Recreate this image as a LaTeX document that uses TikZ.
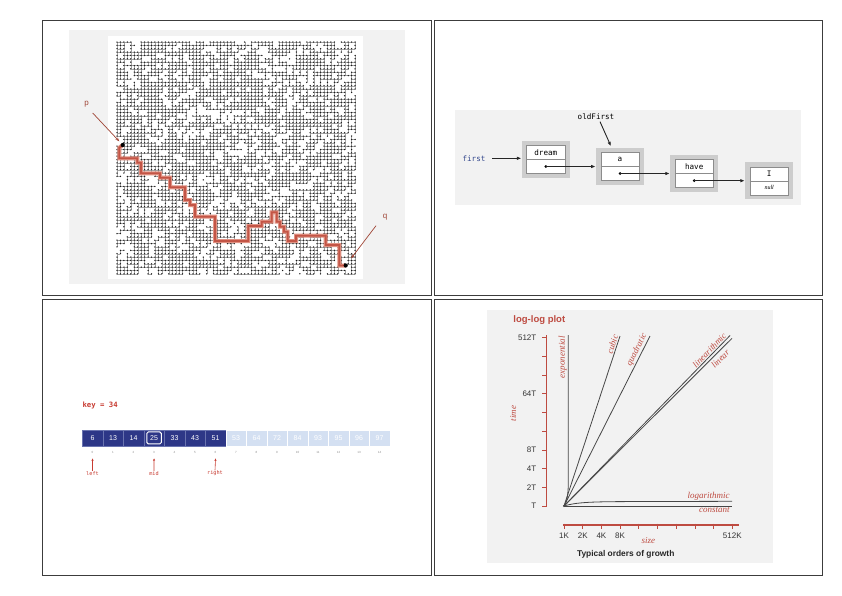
\documentclass[tikz,border=0pt]{standalone}
\usepackage{fontspec}
\setmainfont{Liberation Sans}
\newfontfamily\monof{DejaVu Sans Mono}
\newfontfamily\serf{Liberation Serif}
\usetikzlibrary{arrows.meta,calc}
\definecolor{framecol}{RGB}{60,60,60}
\definecolor{gridcol}{RGB}{165,165,165}
\definecolor{panelgray}{RGB}{242,242,242}
\definecolor{pathred}{RGB}{195,85,70}
\definecolor{pathlight}{RGB}{225,145,130}
\definecolor{arrowred}{RGB}{160,70,55}
\definecolor{navy}{RGB}{45,55,135}
\definecolor{navyline}{RGB}{105,115,175}
\definecolor{lightblue}{RGB}{212,224,242}
\definecolor{keyred}{RGB}{200,60,50}
\definecolor{plotred}{RGB}{190,75,65}
\definecolor{curvecol}{RGB}{70,70,70}
\definecolor{boxgray}{RGB}{205,205,205}
\definecolor{cellline}{RGB}{140,140,140}
\definecolor{firstblue}{RGB}{50,70,140}
\newcommand\FSz[1]{\fontsize{#1}{#1}\selectfont}
\tikzset{
  panel/.style={draw=framecol, line width=0.8pt},
  gridline/.style={draw=gridcol, line width=0.25pt},
  brarrow/.style={draw=arrowred, line width=0.7pt, -{Stealth[length=4pt,width=3pt]}},
  brtext/.style={text=arrowred, font=\FSz{8}, inner sep=1pt},
  outerbox/.style={fill=boxgray, minimum width=48.3pt, minimum height=37pt, inner sep=0pt},
  innerbox/.style={draw=cellline, fill=white, line width=0.6pt, minimum width=38.3pt, minimum height=28pt, inner sep=0pt},
  mono/.style={font=\monof\FSz{7.6}, inner sep=0.5pt},
  listarrow/.style={draw=black!85, line width=0.9pt, -{Latex[length=4.5pt,width=3.5pt]}},
  cellnode/.style={minimum width=20.5pt, minimum height=15.7pt, inner sep=0pt, line width=0.5pt, font=\FSz{7}},
  darkcell/.style={cellnode, fill=navy, draw=navyline, text=white},
  lightcell/.style={cellnode, fill=lightblue, draw=white, text=white},
  idx/.style={font=\FSz{3}, text=black!45, inner sep=0pt},
  keylbl/.style={font=\monof\FSz{5.2}, text=keyred, inner sep=0.5pt},
  redup/.style={draw=keyred, line width=0.6pt, -{Stealth[length=2.5pt,width=2.2pt]}},
  axisline/.style={draw=plotred, line width=1.2pt},
  tickline/.style={draw=plotred, line width=0.8pt},
  ticklbl/.style={font=\FSz{8}, text=black!80, inner sep=0.5pt},
  curveline/.style={draw=curvecol, line width=0.8pt},
  growlbl/.style={font=\serf\itshape\FSz{9}, text=plotred, inner sep=1.2pt},
}
\begin{document}
\begin{tikzpicture}[x=1pt,y=-1pt]
\useasboundingbox (0,0) rectangle (842,595);
\fill[white] (0,0) rectangle (842,595);
% ---------- panel frames
\draw[panel] (42,20) rectangle (431,295);
\draw[panel] (434,20) rectangle (822,295);
\draw[panel] (42,299) rectangle (431,575);
\draw[panel] (434,299) rectangle (822,575);

% ================= TOP-LEFT: percolation =================
\fill[panelgray] (69,30) rectangle (405,284);
\fill[white] (108,36) rectangle (363,279);
\pgfmathsetseed{31}
\foreach \j in {0,...,69}{\foreach \i in {0,...,69}{%
  \pgfmathrandominteger{\r}{1}{100}%
  \ifnum\r>19 \expandafter\xdef\csname st\i-\j\endcsname{1}\else\expandafter\xdef\csname st\i-\j\endcsname{0}\fi}}
\foreach \j in {0,...,69}{%
  \pgfmathsetmacro\yy{42+3.36*\j}%
  \gdef\rowdots{}\gdef\rowlines{}%
  \foreach \i in {0,...,69}{%
    \if1\csname st\i-\j\endcsname
      \pgfmathsetmacro\xx{117+3.45*\i}%
      \xdef\rowdots{\rowdots (\xx,\yy) circle[radius=0.75]}%
      \if1\csname st\the\numexpr\i+1\relax-\j\endcsname
        \xdef\rowlines{\rowlines (\xx,\yy) -- ++(3.45,0)}\fi
      \if1\csname st\i-\the\numexpr\j+1\relax\endcsname
        \xdef\rowlines{\rowlines (\xx,\yy) -- ++(0,3.36)}\fi
    \fi}%
  \edef\tmpcmd{\noexpand\draw[gridline] \rowlines; \noexpand\fill[black!90] \rowdots;}\tmpcmd
}
\draw[pathred, line width=1.8pt, line join=miter, preaction={draw=pathlight, line width=4pt}]
  (122.7,145) -- (119.3,147.7) -- (119.3,158.3) -- (137.3,158.3) -- (137.3,162.7) -- (141,162.7)
  -- (141,173.3) -- (160,173.3) -- (160,177.7) -- (170,177.7) -- (170,187.3) -- (185,187.3)
  -- (185,200) -- (190,200) -- (190,205) -- (195,205) -- (195,216.7) -- (215,216.7) -- (215,241)
  -- (248.3,241) -- (248.3,226) -- (261.7,226) -- (261.7,221.7) -- (271.7,221.7) -- (271.7,212.3)
  -- (276.7,212.3) -- (276.7,221.7) -- (280,221.7) -- (280,226.7) -- (284,226.7) -- (284,231.7)
  -- (287.7,231.7) -- (287.7,241) -- (296,241) -- (296,235.7) -- (325.7,235.7) -- (325.7,245)
  -- (339.3,245) -- (339.3,265.5) -- (345.7,265.5);
\coordinate (pp) at (122.7,145);
\coordinate (qq) at (345.7,265.5);
\fill (pp) circle[radius=2.1];
\fill (qq) circle[radius=2.1];
\node[brtext] (plabel) at (86.7,104) {p};
\node[brtext] (qlabel) at (385,216.7) {q};
\draw[brarrow, shorten >=5pt] ($(plabel)+(6,9)$) -- (pp);
\draw[brarrow, shorten >=9pt] ($(qlabel)+(-9,9)$) -- (qq);

% ================= TOP-RIGHT: linked list =================
\fill[panelgray] (455,109.5) rectangle (800.5,205);
\node[outerbox] (dO) at (545.8,159.5) {};
\node[outerbox] (aO) at (620,166.5) {};
\node[outerbox] (hO) at (694.2,173.7) {};
\node[outerbox] (iO) at (769.2,180.8) {};
\foreach \b in {d,a,h,i}{
  \node[innerbox] (\b I) at (\b O.center) {};
  \draw[cellline, line width=0.6pt] (\b I.west) -- (\b I.east);
  \coordinate (\b T) at ($(\b I.center)+(0,-7)$);
  \coordinate (\b P) at ($(\b I.center)+(0,7)$);
}
\node[mono] at (dT) {dream};
\node[mono] at (aT) {a};
\node[mono] at (hT) {have};
\node[mono] at (iT) {I};
\node[font=\serf\itshape\FSz{6}, inner sep=0pt] at (iP) {null};
\foreach \b in {d,a,h}{\fill (\b P) circle[radius=1.5];}
\draw[listarrow] (dP) -- (dP -| aO.west);
\draw[listarrow] (aP) -- (aP -| hO.west);
\draw[listarrow] (hP) -- (hP -| iO.west);
\node[mono, text=firstblue] (first) at (474,158.3) {first};
\draw[listarrow] ([xshift=6pt]first.east) -- (first -| dO.west);
\node[mono] (oldF) at (596,116.5) {oldFirst};
\draw[listarrow] ($(oldF.south)+(4,1.5)$) -- ($(aO.north)+(-9,-1.5)$);

% ================= BOTTOM-LEFT: binary search =================
\node[font=\monof\bfseries\FSz{7.3}, text=keyred, anchor=west, inner sep=0pt] (key) at (82.3,405) {key = 34};
\foreach \v [count=\k from 0] in {6,13,14,25,33,43,51,53,64,72,84,93,95,96,97}{
  \ifnum\k<7
    \node[darkcell] (c\k) at ({92.55+20.5*\k},437.9) {\v};
  \else
    \node[lightcell] (c\k) at ({92.55+20.5*\k},437.9) {\v};
  \fi
  \node[idx] at ($(c\k.center)+(0,14.4)$) {\k};
}
\node[draw=white, line width=1pt, rounded corners=1.5pt, minimum width=14.5pt, minimum height=12pt, inner sep=0pt] at (c3) {};
\node[keylbl] (lft) at (92.5,473.5) {left};
\node[keylbl] (md) at (154,473.5) {mid};
\node[keylbl] (rgt) at (215,473.5) {right};
\draw[redup] (lft.north) -- ($(c0.center)+(0,20.5)$);
\draw[redup] (md.north) -- ($(c3.center)+(0,20.5)$);
\draw[redup] (rgt.north) -- ($(c6.center)+(0,20.5)$);

% ================= BOTTOM-RIGHT: growth plot =================
\fill[panelgray] (486.5,310) rectangle (773.3,563);
\node[font=\bfseries\FSz{9.5}, text=plotred, inner sep=0pt] (title) at (539.3,320) {log-log plot};
\draw[axisline] (546.7,335) -- (546.7,507);
\foreach \k in {0,...,9}{\draw[tickline] (542,{506-18.7*\k}) -- (546.7,{506-18.7*\k});}
\node[ticklbl, anchor=east] at (537,506) {T};
\node[ticklbl, anchor=east] at (537,487.3) {2T};
\node[ticklbl, anchor=east] at (537,468.6) {4T};
\node[ticklbl, anchor=east] at (537,449.9) {8T};
\node[ticklbl, anchor=east] at (537,393.8) {64T};
\node[ticklbl, anchor=east] at (537,337.7) {512T};
\node[growlbl, rotate=90] at (513.3,413.3) {time};
\draw[axisline] (563.3,525) -- (739.3,525);
\foreach \k in {0,...,9}{\draw[tickline] ({564+18.7*\k},523.5) -- ({564+18.7*\k},529);}
\node[ticklbl] at (564,535.5) {1K};
\node[ticklbl] at (582.7,535.5) {2K};
\node[ticklbl] at (601.4,535.5) {4K};
\node[ticklbl] at (620.1,535.5) {8K};
\node[ticklbl] at (732.3,535.5) {512K};
\node[growlbl] at (648.3,540.5) {size};
\node[font=\bfseries\FSz{8.4}, text=black!85, inner sep=0pt] at (625.7,554.3) {Typical orders of growth};
\coordinate (O) at (564,506);
\draw[curveline] (O) .. controls (566.5,503) and (568.3,496) .. (568.3,482) -- (568.3,335);
\draw[curveline] (O) -- (620,336);
\draw[curveline] (O) -- (650,336);
\draw[curveline] (O) -- (730,335.5);
\draw[curveline] (O) -- (732,338.3);
\draw[curveline] (O) .. controls (575,502.5) and (590,501.8) .. (620,501.6) -- (732,501.3);
\draw[curveline] (O) -- (732,506);
\fill[curvecol] (O) circle[radius=1.2];
\node[growlbl, rotate=90, anchor=south] at (568.3,357) {exponential};
\node[growlbl, rotate=72, anchor=south] at (616.8,345.7) {cubic};
\node[growlbl, rotate=63, anchor=south] at (641.8,352.3) {quadratic};
\node[growlbl, rotate=45.7, anchor=south] at (712.7,353.3) {linearithmic};
\node[growlbl, rotate=45, anchor=north] at (717,355.7) {linear};
\node[growlbl, anchor=south east] at (731,501.5) {logarithmic};
\node[growlbl, anchor=north east] at (731,506.5) {constant};
\end{tikzpicture}
\end{document}
